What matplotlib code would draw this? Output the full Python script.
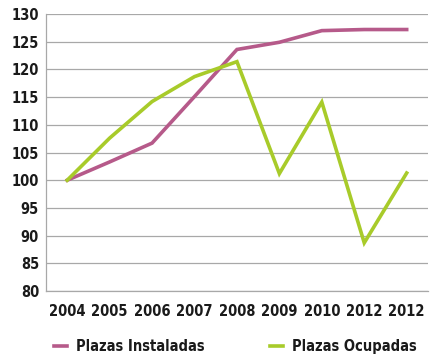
import matplotlib.pyplot as plt
from matplotlib import font_manager

# ── data ─────────────────────────────────────────────────────────────────────
years = ['2004', '2005', '2006', '2007', '2008', '2009', '2010', '2012', '2012']
instaladas = [100, 103.3, 106.7, 115.1, 123.6, 124.9, 127.0, 127.2, 127.2]
ocupadas = [100, 107.6, 114.2, 118.7, 121.4, 101.2, 114.1, 88.7, 101.3]
yticks = list(range(80, 131, 5))

# ── font: narrow bold ────────────────────────────────────────────────────────
fp = font_manager.FontProperties(family='DejaVu Sans', weight='bold',
                                 stretch='condensed', size=10.5)

# ── plot ─────────────────────────────────────────────────────────────────────
fig = plt.figure(figsize=(4.4, 3.64), dpi=100)
ax = fig.add_axes([0.1045, 0.2005, 0.868, 0.761])

x = range(len(years))
l1, = ax.plot(x, instaladas, color='#B65A8A', lw=2.6, solid_joinstyle='miter', zorder=3)
l2, = ax.plot(x, ocupadas, color='#A8CB2A', lw=2.6, solid_joinstyle='miter', zorder=3)

ax.set_xlim(-0.5, len(years) - 0.5)
ax.set_ylim(80, 130)
ax.set_yticks(yticks)
ax.set_xticks(list(x))
ax.set_xticklabels(years)
ax.grid(axis='y', color='#A8A8A8', lw=0.9)
ax.set_axisbelow(True)
for s in ['top', 'right']:
    ax.spines[s].set_visible(False)
for s in ['left', 'bottom']:
    ax.spines[s].set_color('#A8A8A8')
    ax.spines[s].set_linewidth(0.9)
ax.tick_params(length=0, colors='#1A1A1A')
ax.tick_params(axis='x', pad=9)
ax.tick_params(axis='y', pad=5)
for lbl in ax.get_xticklabels() + ax.get_yticklabels():
    lbl.set_fontproperties(fp)

# legend entries placed separately, like the original
for line, label, xa in [(l1, 'Plazas Instaladas', 0.123), (l2, 'Plazas Ocupadas', 0.613)]:
    fig.legend([line], [label], loc='center left', bbox_to_anchor=(xa, 0.047),
               frameon=False, handlelength=0.9, handletextpad=0.6,
               borderaxespad=0, borderpad=0, prop=fp, labelcolor='#1A1A1A')

fig.savefig('out.png', dpi=100)
